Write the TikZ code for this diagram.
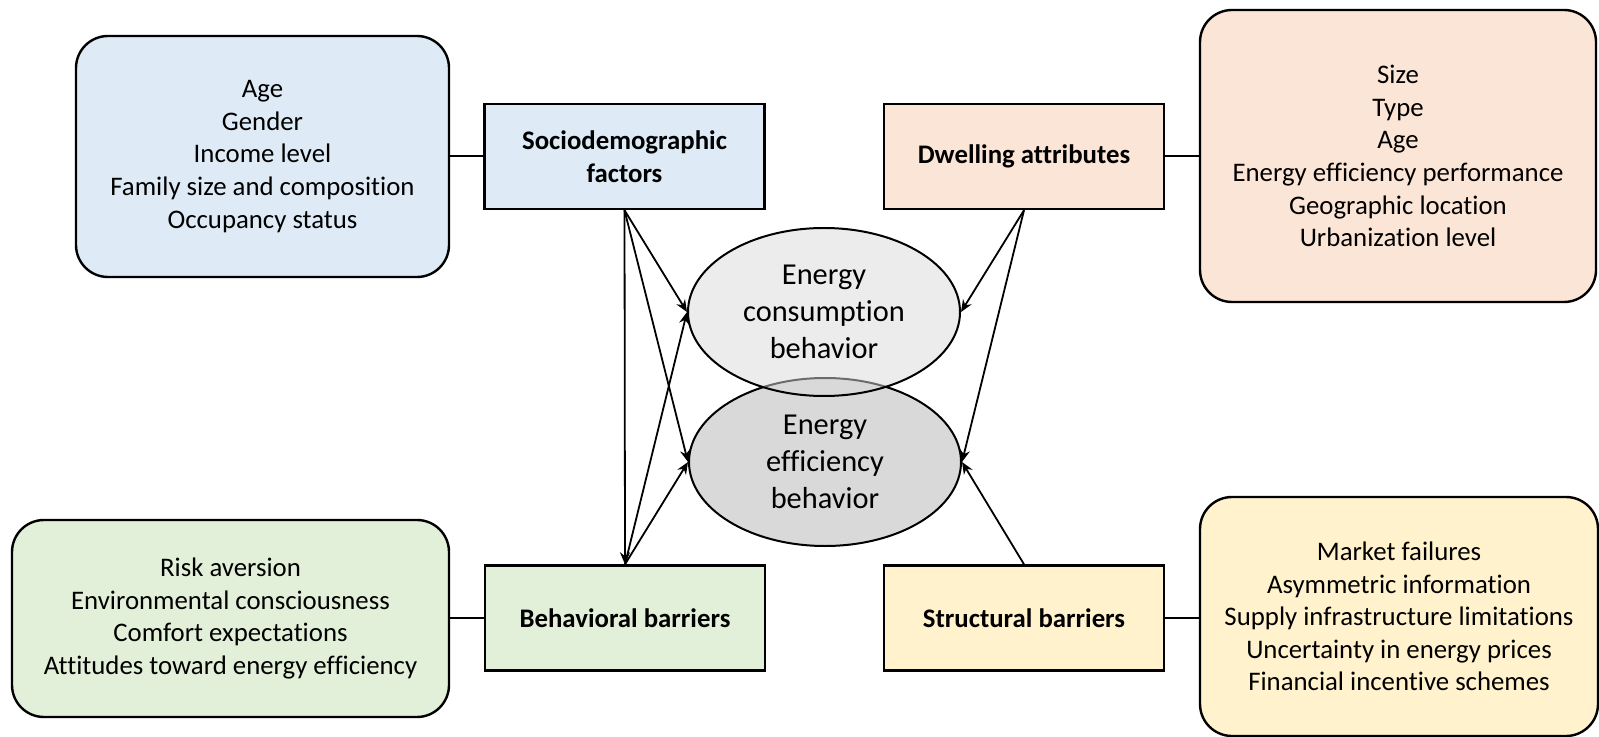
\documentclass[tikz,border=0pt]{standalone}
\usepackage{fontspec}
\setmainfont[Ligatures=NoCommon]{Carlito}
\usetikzlibrary{arrows.meta,shapes.geometric}

\definecolor{socblue}{HTML}{DEEBF7}
\definecolor{dwellorange}{HTML}{FBE5D6}
\definecolor{behavgreen}{HTML}{E2F0D9}
\definecolor{structyellow}{HTML}{FFF2CC}
\definecolor{effgray}{HTML}{D9D9D9}

\tikzset{
	listbox/.style={draw, line width=1.2pt, rounded corners=16pt, align=center, inner sep=0pt, font=\fontsize{13.4}{16.3}\selectfont},
	headbox/.style={draw, line width=1.2pt, align=center, inner sep=0pt, minimum width=140pt, minimum height=52.5pt, font=\fontsize{13.4}{16.3}\selectfont\bfseries},
	behavoval/.style={draw, ellipse, line width=1pt, align=center, inner sep=0pt, minimum width=136pt, minimum height=84pt, font=\fontsize{15.2}{18.5}\selectfont},
	link/.style={line width=1pt},
	pointer/.style={line width=0.9pt, -{Stealth[length=6pt,width=5pt]}}
}

\begin{document}
\begin{tikzpicture}[x=0.5pt, y=-0.5pt]
			%%%%% START %%%%%
			
			\useasboundingbox (0, 0) rectangle (1599, 737);
			
			% list boxes
			\node[listbox, fill=socblue, minimum width=186.5pt, minimum height=120.5pt] (socitems) at (262.5, 156.5) {Age\\Gender\\Income level\\Family size and composition\\Occupancy status};
			\node[listbox, fill=dwellorange, minimum width=198pt, minimum height=146pt] (dwellitems) at (1398, 156) {Size\\Type\\Age\\Energy efficiency performance\\Geographic location\\Urbanization level};
			\node[listbox, fill=behavgreen, minimum width=218.5pt, minimum height=98.5pt] (behavitems) at (230.5, 618.5) {Risk aversion\\Environmental consciousness\\Comfort expectations\\Attitudes toward energy efficiency};
			\node[listbox, fill=structyellow, minimum width=199pt, minimum height=119.5pt] (structitems) at (1399, 616.5) {Market failures\\Asymmetric information\\Supply infrastructure limitations\\Uncertainty in energy prices\\Financial incentive schemes};
			
			% factor boxes
			\node[headbox, fill=socblue] (soc) at (624.5, 156.5) {Sociodemographic\\factors};
			\node[headbox, fill=dwellorange] (dwell) at (1024, 156.5) {Dwelling attributes};
			\node[headbox, fill=behavgreen] (behav) at (625, 618) {Behavioral barriers};
			\node[headbox, fill=structyellow] (struct) at (1024, 618) {Structural barriers};
			
			% behaviour ovals
			\node[behavoval, fill=effgray] (efficiency) at (825, 462) {Energy\\efficiency\\behavior};
			\node[behavoval, fill=effgray, fill opacity=0.5, text opacity=1, draw opacity=1] (consumption) at (824, 312) {Energy\\consumption\\behavior};
			
			\draw[link] (socitems) -- (soc);
			\draw[link] (dwell.east) -- (dwell.east -| dwellitems.west);
			\draw[link] (behavitems.east |- behav.west) -- (behav.west);
			\draw[link] (struct.east) -- (struct.east -| structitems.west);
			
			\draw[pointer] (soc.south) -- (behav.north);
			\draw[pointer] (soc.south) -- (consumption.west);
			\draw[pointer] (soc.south) -- (efficiency.west);
			\draw[pointer] (behav.north) -- (consumption.west);
			\draw[pointer] (behav.north) -- (efficiency.west);
			
			\draw[pointer] (dwell.south) -- (consumption.east);
			\draw[pointer] (dwell.south) -- (efficiency.east);
			\draw[pointer] (struct.north) -- (efficiency.east);
			
			%%%%% END %%%%%
\end{tikzpicture}
\end{document}
